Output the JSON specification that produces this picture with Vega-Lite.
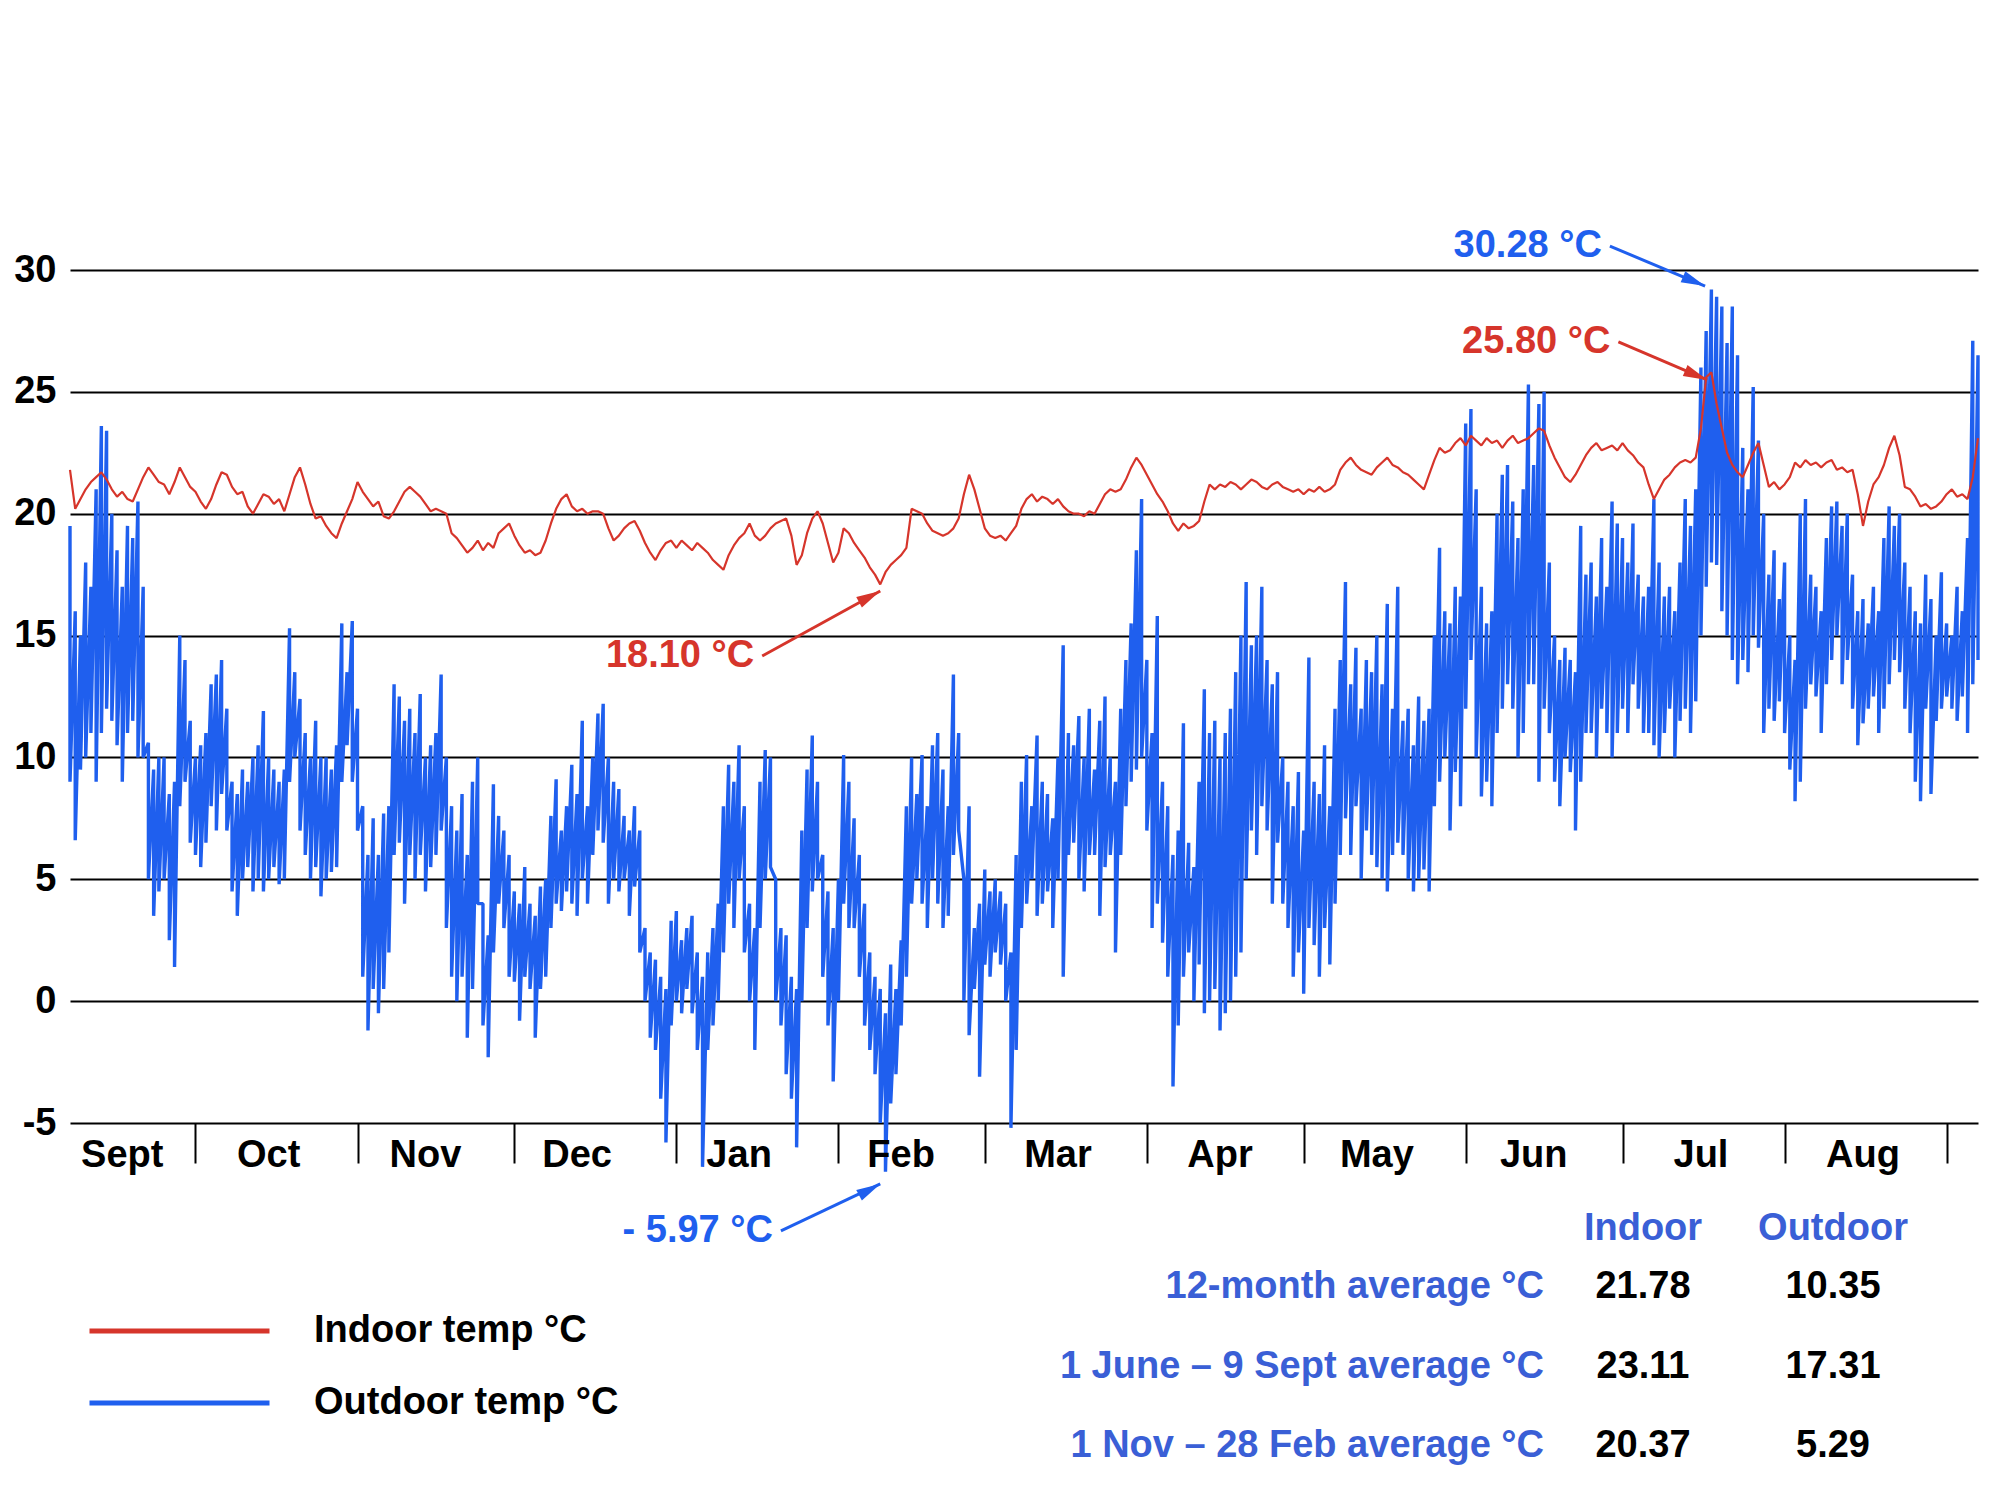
{
  "$schema": "https://vega.github.io/schema/vega-lite/v6.json",
  "description": "Indoor and outdoor temperature over twelve months, with period averages.",
  "width": 1908,
  "height": 853,
  "autosize": {"type": "none"},
  "padding": {"left": 70, "top": 270, "right": 22, "bottom": 377},
  "background": "white",
  "datasets": {
    "temps": [
      {"d":"2012-09-07","l":9,"h":19.5,"i":21.8},{"d":"2012-09-08","l":6.6,"h":16,"i":20.2},{"d":"2012-09-09","l":9.5,"h":15,"i":20.6},{"d":"2012-09-10","l":10,"h":18,"i":21.0},
      {"d":"2012-09-11","l":11,"h":17,"i":21.3},{"d":"2012-09-12","l":9,"h":21,"i":21.5},{"d":"2012-09-13","l":11,"h":23.6,"i":21.7},{"d":"2012-09-14","l":12,"h":23.4,"i":21.4},
      {"d":"2012-09-15","l":11.5,"h":20,"i":21.0},{"d":"2012-09-16","l":10.5,"h":18.5,"i":20.7},{"d":"2012-09-17","l":9,"h":17,"i":20.9},{"d":"2012-09-18","l":11,"h":19.5,"i":20.6},
      {"d":"2012-09-19","l":11.5,"h":19,"i":20.5},{"d":"2012-09-20","l":10,"h":20.5,"i":21.0},{"d":"2012-09-21","l":10,"h":17,"i":21.5},{"d":"2012-09-22","l":5,"h":10.6,"i":21.9},
      {"d":"2012-09-23","l":3.5,"h":9.5,"i":21.6},{"d":"2012-09-24","l":4.5,"h":10,"i":21.3},{"d":"2012-09-25","l":5,"h":10,"i":21.2},{"d":"2012-09-26","l":2.5,"h":8.5,"i":20.8},
      {"d":"2012-09-27","l":1.4,"h":9,"i":21.3},{"d":"2012-09-28","l":8,"h":15,"i":21.9},{"d":"2012-09-29","l":9,"h":14,"i":21.5},{"d":"2012-09-30","l":6.5,"h":11.5,"i":21.1},
      {"d":"2012-10-01","l":6,"h":10,"i":20.9},{"d":"2012-10-02","l":5.5,"h":10.5,"i":20.5},{"d":"2012-10-03","l":6.5,"h":11,"i":20.2},{"d":"2012-10-04","l":8,"h":13,"i":20.6},
      {"d":"2012-10-05","l":7,"h":13.4,"i":21.2},{"d":"2012-10-06","l":8.5,"h":14,"i":21.7},{"d":"2012-10-07","l":7,"h":12,"i":21.6},{"d":"2012-10-08","l":4.5,"h":9,"i":21.1},
      {"d":"2012-10-09","l":3.5,"h":8.5,"i":20.8},{"d":"2012-10-10","l":5,"h":9.5,"i":20.9},{"d":"2012-10-11","l":5.5,"h":9,"i":20.3},{"d":"2012-10-12","l":4.5,"h":10,"i":20.0},
      {"d":"2012-10-13","l":5,"h":10.5,"i":20.4},{"d":"2012-10-14","l":4.5,"h":11.9,"i":20.8},{"d":"2012-10-15","l":5,"h":10,"i":20.7},{"d":"2012-10-16","l":5.5,"h":9.5,"i":20.4},
      {"d":"2012-10-17","l":4.8,"h":9,"i":20.6},{"d":"2012-10-18","l":5,"h":9.5,"i":20.1},{"d":"2012-10-19","l":9,"h":15.3,"i":20.8},{"d":"2012-10-20","l":10,"h":13.5,"i":21.5},
      {"d":"2012-10-21","l":7,"h":12.4,"i":21.9},{"d":"2012-10-22","l":6,"h":11,"i":21.2},{"d":"2012-10-23","l":5,"h":10,"i":20.4},{"d":"2012-10-24","l":5.5,"h":11.5,"i":19.8},
      {"d":"2012-10-25","l":4.3,"h":10,"i":19.9},{"d":"2012-10-26","l":5,"h":10,"i":19.5},{"d":"2012-10-27","l":5.3,"h":9.5,"i":19.2},{"d":"2012-10-28","l":5.5,"h":10.5,"i":19.0},
      {"d":"2012-10-29","l":9,"h":15.5,"i":19.6},{"d":"2012-10-30","l":10.5,"h":13.5,"i":20.1},{"d":"2012-10-31","l":9,"h":15.6,"i":20.6},
      {"d":"2012-11-01","l":7,"h":12,"i":21.3},{"d":"2012-11-02","l":1,"h":8,"i":20.9},{"d":"2012-11-03","l":-1.2,"h":6,"i":20.6},{"d":"2012-11-04","l":0.5,"h":7.5,"i":20.3},
      {"d":"2012-11-05","l":-0.5,"h":6,"i":20.5},{"d":"2012-11-06","l":0.5,"h":7.7,"i":19.9},{"d":"2012-11-07","l":2,"h":8,"i":19.8},{"d":"2012-11-08","l":6,"h":13,"i":20.1},
      {"d":"2012-11-09","l":6.5,"h":12.5,"i":20.5},{"d":"2012-11-10","l":4,"h":11.5,"i":20.9},{"d":"2012-11-11","l":6,"h":12,"i":21.1},{"d":"2012-11-12","l":5,"h":11,"i":20.9},
      {"d":"2012-11-13","l":6,"h":12.6,"i":20.7},{"d":"2012-11-14","l":4.5,"h":10,"i":20.4},{"d":"2012-11-15","l":5.5,"h":10.5,"i":20.1},{"d":"2012-11-16","l":6,"h":11,"i":20.2},
      {"d":"2012-11-17","l":7,"h":13.4,"i":20.1},{"d":"2012-11-18","l":3,"h":10,"i":20.0},{"d":"2012-11-19","l":1,"h":8,"i":19.2},{"d":"2012-11-20","l":0,"h":7,"i":19.0},
      {"d":"2012-11-21","l":1,"h":8.5,"i":18.7},{"d":"2012-11-22","l":-1.5,"h":6,"i":18.4},{"d":"2012-11-23","l":0.5,"h":9,"i":18.6},{"d":"2012-11-24","l":4,"h":10,"i":18.9},
      {"d":"2012-11-25","l":-1,"h":4,"i":18.5},{"d":"2012-11-26","l":-2.3,"h":2.7,"i":18.8},{"d":"2012-11-27","l":2,"h":8.9,"i":18.6},{"d":"2012-11-28","l":4,"h":7.6,"i":19.2},
      {"d":"2012-11-29","l":3,"h":7,"i":19.4},{"d":"2012-11-30","l":1,"h":6,"i":19.6},
      {"d":"2012-12-01","l":0.8,"h":4.5,"i":19.1},{"d":"2012-12-02","l":-0.8,"h":4,"i":18.7},{"d":"2012-12-03","l":1,"h":5.5,"i":18.4},{"d":"2012-12-04","l":0.5,"h":4,"i":18.5},
      {"d":"2012-12-05","l":-1.5,"h":3.5,"i":18.3},{"d":"2012-12-06","l":0.5,"h":4.7,"i":18.4},{"d":"2012-12-07","l":1,"h":5,"i":18.9},{"d":"2012-12-08","l":3,"h":7.6,"i":19.6},
      {"d":"2012-12-09","l":4,"h":9.1,"i":20.2},{"d":"2012-12-10","l":3.7,"h":7,"i":20.6},{"d":"2012-12-11","l":4.5,"h":8,"i":20.8},{"d":"2012-12-12","l":4,"h":9.7,"i":20.3},
      {"d":"2012-12-13","l":3.5,"h":8.5,"i":20.1},{"d":"2012-12-14","l":5,"h":11.5,"i":20.2},{"d":"2012-12-15","l":4,"h":8,"i":20.0},{"d":"2012-12-16","l":6,"h":10,"i":20.1},
      {"d":"2012-12-17","l":7,"h":11.8,"i":20.1},{"d":"2012-12-18","l":6.5,"h":12.2,"i":20.0},{"d":"2012-12-19","l":4,"h":10,"i":19.4},{"d":"2012-12-20","l":5,"h":9,"i":18.9},
      {"d":"2012-12-21","l":4.5,"h":8.7,"i":19.1},{"d":"2012-12-22","l":5,"h":7.6,"i":19.4},{"d":"2012-12-23","l":3.5,"h":7,"i":19.6},{"d":"2012-12-24","l":4.7,"h":8,"i":19.7},
      {"d":"2012-12-25","l":2,"h":7,"i":19.3},{"d":"2012-12-26","l":0,"h":3,"i":18.8},{"d":"2012-12-27","l":-1.5,"h":2,"i":18.4},{"d":"2012-12-28","l":-2,"h":1.7,"i":18.1},
      {"d":"2012-12-29","l":-4,"h":1,"i":18.5},{"d":"2012-12-30","l":-5.8,"h":0.5,"i":18.8},{"d":"2012-12-31","l":-1,"h":3.3,"i":18.9},
      {"d":"2013-01-01","l":0,"h":3.7,"i":18.6},{"d":"2013-01-02","l":-0.5,"h":2.5,"i":18.9},{"d":"2013-01-03","l":0.5,"h":3,"i":18.7},{"d":"2013-01-04","l":-0.5,"h":3.5,"i":18.5},
      {"d":"2013-01-05","l":-2,"h":2,"i":18.8},{"d":"2013-01-06","l":-6.8,"h":1,"i":18.6},{"d":"2013-01-07","l":-2,"h":2,"i":18.4},{"d":"2013-01-08","l":-1,"h":3,"i":18.1},
      {"d":"2013-01-09","l":0,"h":4,"i":17.9},{"d":"2013-01-10","l":2,"h":8,"i":17.7},{"d":"2013-01-11","l":4,"h":9.7,"i":18.3},{"d":"2013-01-12","l":3,"h":9,"i":18.7},
      {"d":"2013-01-13","l":5,"h":10.5,"i":19.0},{"d":"2013-01-14","l":2,"h":8,"i":19.2},{"d":"2013-01-15","l":0,"h":4,"i":19.6},{"d":"2013-01-16","l":-2,"h":3,"i":19.1},
      {"d":"2013-01-17","l":3,"h":9,"i":18.9},{"d":"2013-01-18","l":5,"h":10.3,"i":19.1},{"d":"2013-01-19","l":5.5,"h":10,"i":19.4},{"d":"2013-01-20","l":0,"h":5,"i":19.6},
      {"d":"2013-01-21","l":-1,"h":3,"i":19.7},{"d":"2013-01-22","l":-3,"h":2.7,"i":19.8},{"d":"2013-01-23","l":-4,"h":1,"i":19.1},{"d":"2013-01-24","l":-6,"h":0.5,"i":17.9},
      {"d":"2013-01-25","l":0,"h":7,"i":18.3},{"d":"2013-01-26","l":3,"h":9.5,"i":19.2},{"d":"2013-01-27","l":4.5,"h":10.9,"i":19.8},{"d":"2013-01-28","l":5,"h":9,"i":20.1},
      {"d":"2013-01-29","l":1,"h":6,"i":19.6},{"d":"2013-01-30","l":-1,"h":4.5,"i":18.8},{"d":"2013-01-31","l":-3.3,"h":3,"i":18.0},
      {"d":"2013-02-01","l":0,"h":5,"i":18.4},{"d":"2013-02-02","l":4,"h":10.1,"i":19.4},{"d":"2013-02-03","l":3,"h":9,"i":19.2},{"d":"2013-02-04","l":3,"h":7.5,"i":18.8},
      {"d":"2013-02-05","l":1,"h":6,"i":18.5},{"d":"2013-02-06","l":-1,"h":4,"i":18.2},{"d":"2013-02-07","l":-2,"h":2,"i":17.8},{"d":"2013-02-08","l":-3,"h":1,"i":17.5},
      {"d":"2013-02-09","l":-5,"h":0.5,"i":17.1},{"d":"2013-02-10","l":-7,"h":-0.5,"i":17.6},{"d":"2013-02-11","l":-4.2,"h":1.5,"i":17.9},{"d":"2013-02-12","l":-3,"h":0.5,"i":18.1},
      {"d":"2013-02-13","l":-1,"h":2.5,"i":18.3},{"d":"2013-02-14","l":1,"h":8,"i":18.6},{"d":"2013-02-15","l":4,"h":10,"i":20.2},{"d":"2013-02-16","l":5,"h":8.5,"i":20.1},
      {"d":"2013-02-17","l":4,"h":10.1,"i":20.0},{"d":"2013-02-18","l":3,"h":8,"i":19.6},{"d":"2013-02-19","l":5,"h":10.5,"i":19.3},{"d":"2013-02-20","l":4,"h":11,"i":19.2},
      {"d":"2013-02-21","l":3,"h":9.5,"i":19.1},{"d":"2013-02-22","l":3.5,"h":8,"i":19.2},{"d":"2013-02-23","l":6,"h":13.4,"i":19.4},{"d":"2013-02-24","l":7,"h":11,"i":19.8},
      {"d":"2013-02-25","l":0,"h":5,"i":20.8},{"d":"2013-02-26","l":-1.4,"h":8,"i":21.6},{"d":"2013-02-27","l":0.5,"h":3,"i":21.0},{"d":"2013-02-28","l":-3.1,"h":4,"i":20.2},
      {"d":"2013-03-01","l":1.5,"h":5.4,"i":19.4},{"d":"2013-03-02","l":1,"h":4.5,"i":19.1},{"d":"2013-03-03","l":2,"h":5,"i":19.0},{"d":"2013-03-04","l":1.5,"h":4.5,"i":19.1},
      {"d":"2013-03-05","l":0,"h":4,"i":18.9},{"d":"2013-03-06","l":-5.2,"h":2,"i":19.2},{"d":"2013-03-07","l":-2,"h":6,"i":19.5},{"d":"2013-03-08","l":3,"h":9,"i":20.2},
      {"d":"2013-03-09","l":4,"h":10.1,"i":20.6},{"d":"2013-03-10","l":5,"h":8,"i":20.8},{"d":"2013-03-11","l":3.5,"h":10.9,"i":20.5},{"d":"2013-03-12","l":4,"h":9,"i":20.7},
      {"d":"2013-03-13","l":4.5,"h":8.5,"i":20.6},{"d":"2013-03-14","l":3,"h":7.5,"i":20.4},{"d":"2013-03-15","l":5,"h":10,"i":20.6},{"d":"2013-03-16","l":1,"h":14.6,"i":20.3},
      {"d":"2013-03-17","l":6,"h":11,"i":20.1},{"d":"2013-03-18","l":6.5,"h":10.5,"i":20.0},{"d":"2013-03-19","l":5,"h":11.7,"i":20.0},{"d":"2013-03-20","l":4.5,"h":10,"i":19.9},
      {"d":"2013-03-21","l":6,"h":12,"i":20.1},{"d":"2013-03-22","l":6,"h":9.5,"i":20.0},{"d":"2013-03-23","l":3.5,"h":11.5,"i":20.4},{"d":"2013-03-24","l":5.5,"h":12.5,"i":20.8},
      {"d":"2013-03-25","l":6,"h":10,"i":21.0},{"d":"2013-03-26","l":2,"h":9,"i":20.9},{"d":"2013-03-27","l":6,"h":12,"i":21.0},{"d":"2013-03-28","l":8,"h":14,"i":21.4},
      {"d":"2013-03-29","l":9,"h":15.5,"i":21.9},{"d":"2013-03-30","l":9.5,"h":18.5,"i":22.3},{"d":"2013-03-31","l":10,"h":20.6,"i":22.0},
      {"d":"2013-04-01","l":7,"h":14,"i":21.6},{"d":"2013-04-02","l":3,"h":11,"i":21.2},{"d":"2013-04-03","l":4,"h":15.8,"i":20.8},{"d":"2013-04-04","l":2.4,"h":9,"i":20.5},
      {"d":"2013-04-05","l":1,"h":8,"i":20.1},{"d":"2013-04-06","l":-3.5,"h":6,"i":19.6},{"d":"2013-04-07","l":-1,"h":7,"i":19.3},{"d":"2013-04-08","l":1,"h":11.4,"i":19.6},
      {"d":"2013-04-09","l":2,"h":6.5,"i":19.4},{"d":"2013-04-10","l":0,"h":5.5,"i":19.5},{"d":"2013-04-11","l":1.5,"h":9,"i":19.7},{"d":"2013-04-12","l":-0.5,"h":12.8,"i":20.5},
      {"d":"2013-04-13","l":0,"h":11,"i":21.2},{"d":"2013-04-14","l":0.5,"h":11.5,"i":21.0},{"d":"2013-04-15","l":-1.2,"h":10,"i":21.2},{"d":"2013-04-16","l":-0.5,"h":11,"i":21.1},
      {"d":"2013-04-17","l":0,"h":12,"i":21.3},{"d":"2013-04-18","l":1,"h":13.5,"i":21.2},{"d":"2013-04-19","l":2,"h":15,"i":21.0},{"d":"2013-04-20","l":5,"h":17.2,"i":21.2},
      {"d":"2013-04-21","l":7,"h":14.6,"i":21.4},{"d":"2013-04-22","l":6,"h":15,"i":21.3},{"d":"2013-04-23","l":8,"h":17,"i":21.1},{"d":"2013-04-24","l":7,"h":14,"i":21.0},
      {"d":"2013-04-25","l":4,"h":13,"i":21.2},{"d":"2013-04-26","l":6.5,"h":13.5,"i":21.3},{"d":"2013-04-27","l":4,"h":10,"i":21.1},{"d":"2013-04-28","l":3,"h":9,"i":21.0},
      {"d":"2013-04-29","l":1,"h":8,"i":20.9},{"d":"2013-04-30","l":2,"h":9.4,"i":21.0},
      {"d":"2013-05-01","l":0.3,"h":7,"i":20.8},{"d":"2013-05-02","l":3,"h":14.1,"i":21.0},{"d":"2013-05-03","l":2.3,"h":9,"i":20.9},{"d":"2013-05-04","l":1,"h":8.5,"i":21.1},
      {"d":"2013-05-05","l":3,"h":10.5,"i":20.9},{"d":"2013-05-06","l":1.5,"h":8,"i":21.0},{"d":"2013-05-07","l":4,"h":12,"i":21.2},{"d":"2013-05-08","l":6,"h":14,"i":21.8},
      {"d":"2013-05-09","l":7.5,"h":17.2,"i":22.1},{"d":"2013-05-10","l":6,"h":13,"i":22.3},{"d":"2013-05-11","l":8,"h":14.5,"i":22.0},{"d":"2013-05-12","l":5,"h":12,"i":21.8},
      {"d":"2013-05-13","l":7,"h":14,"i":21.7},{"d":"2013-05-14","l":6,"h":13.5,"i":21.6},{"d":"2013-05-15","l":5.5,"h":15,"i":21.9},{"d":"2013-05-16","l":5,"h":13,"i":22.1},
      {"d":"2013-05-17","l":4.5,"h":16.3,"i":22.3},{"d":"2013-05-18","l":6,"h":12,"i":22.0},{"d":"2013-05-19","l":6.5,"h":17,"i":21.9},{"d":"2013-05-20","l":6,"h":11.5,"i":21.7},
      {"d":"2013-05-21","l":5,"h":12,"i":21.6},{"d":"2013-05-22","l":4.5,"h":10.5,"i":21.4},{"d":"2013-05-23","l":5,"h":12.5,"i":21.2},{"d":"2013-05-24","l":5.4,"h":11.5,"i":21.0},
      {"d":"2013-05-25","l":4.5,"h":12,"i":21.6},{"d":"2013-05-26","l":8,"h":15,"i":22.2},{"d":"2013-05-27","l":9,"h":18.6,"i":22.7},{"d":"2013-05-28","l":10,"h":16,"i":22.5},
      {"d":"2013-05-29","l":7,"h":15.5,"i":22.6},{"d":"2013-05-30","l":9.4,"h":17,"i":22.9},{"d":"2013-05-31","l":8,"h":16.6,"i":23.1},
      {"d":"2013-06-01","l":12,"h":23.7,"i":22.8},{"d":"2013-06-02","l":14,"h":24.3,"i":23.2},{"d":"2013-06-03","l":10,"h":21,"i":23.0},{"d":"2013-06-04","l":8.4,"h":17,"i":22.8},
      {"d":"2013-06-05","l":9,"h":15.5,"i":23.1},{"d":"2013-06-06","l":8,"h":16,"i":22.9},{"d":"2013-06-07","l":11,"h":20,"i":23.0},{"d":"2013-06-08","l":12,"h":21.6,"i":22.7},
      {"d":"2013-06-09","l":13,"h":22,"i":23.0},{"d":"2013-06-10","l":12,"h":20.5,"i":23.2},{"d":"2013-06-11","l":10,"h":19,"i":22.9},{"d":"2013-06-12","l":11,"h":21,"i":23.0},
      {"d":"2013-06-13","l":13,"h":25.3,"i":23.1},{"d":"2013-06-14","l":13,"h":22,"i":23.3},{"d":"2013-06-15","l":9,"h":24.5,"i":23.5},{"d":"2013-06-16","l":12,"h":25,"i":23.4},
      {"d":"2013-06-17","l":11,"h":18,"i":22.8},{"d":"2013-06-18","l":9,"h":15,"i":22.3},{"d":"2013-06-19","l":8,"h":14,"i":21.9},{"d":"2013-06-20","l":10,"h":14.5,"i":21.5},
      {"d":"2013-06-21","l":9.4,"h":14,"i":21.3},{"d":"2013-06-22","l":7,"h":13.5,"i":21.6},{"d":"2013-06-23","l":9,"h":19.5,"i":22.0},{"d":"2013-06-24","l":11,"h":17.5,"i":22.4},
      {"d":"2013-06-25","l":11,"h":18,"i":22.7},{"d":"2013-06-26","l":10,"h":16.6,"i":22.9},{"d":"2013-06-27","l":12,"h":19,"i":22.6},{"d":"2013-06-28","l":11,"h":17,"i":22.7},
      {"d":"2013-06-29","l":10,"h":20.5,"i":22.8},{"d":"2013-06-30","l":11,"h":19.6,"i":22.6},
      {"d":"2013-07-01","l":12,"h":19,"i":22.9},{"d":"2013-07-02","l":11,"h":18,"i":22.6},{"d":"2013-07-03","l":13,"h":19.6,"i":22.4},{"d":"2013-07-04","l":12,"h":17.5,"i":22.1},
      {"d":"2013-07-05","l":11,"h":16.6,"i":21.9},{"d":"2013-07-06","l":11,"h":17,"i":21.2},{"d":"2013-07-07","l":10.5,"h":20.6,"i":20.6},{"d":"2013-07-08","l":10,"h":18,"i":21.0},
      {"d":"2013-07-09","l":11,"h":16.6,"i":21.4},{"d":"2013-07-10","l":12,"h":17,"i":21.6},{"d":"2013-07-11","l":10,"h":16,"i":21.9},{"d":"2013-07-12","l":11.5,"h":18,"i":22.1},
      {"d":"2013-07-13","l":12,"h":20.6,"i":22.2},{"d":"2013-07-14","l":11,"h":19.5,"i":22.1},{"d":"2013-07-15","l":12.3,"h":21,"i":22.3},{"d":"2013-07-16","l":15,"h":26,"i":23.5},
      {"d":"2013-07-17","l":17,"h":27.5,"i":25.6},{"d":"2013-07-18","l":18,"h":29.2,"i":25.8},{"d":"2013-07-19","l":17.9,"h":28.9,"i":24.5},{"d":"2013-07-20","l":16,"h":28.5,"i":23.5},
      {"d":"2013-07-21","l":15,"h":27,"i":22.5},{"d":"2013-07-22","l":14,"h":28.5,"i":22.0},{"d":"2013-07-23","l":13,"h":26.5,"i":21.7},{"d":"2013-07-24","l":14,"h":22.7,"i":21.5},
      {"d":"2013-07-25","l":13.5,"h":21,"i":22.0},{"d":"2013-07-26","l":15,"h":25.2,"i":22.5},{"d":"2013-07-27","l":14.5,"h":23,"i":22.9},{"d":"2013-07-28","l":11,"h":20,"i":22.0},
      {"d":"2013-07-29","l":12,"h":17.5,"i":21.1},{"d":"2013-07-30","l":11.5,"h":18.5,"i":21.3},{"d":"2013-07-31","l":12.3,"h":16.5,"i":21.0},
      {"d":"2013-08-01","l":11,"h":18,"i":21.2},{"d":"2013-08-02","l":9.5,"h":15,"i":21.5},{"d":"2013-08-03","l":8.2,"h":14,"i":22.1},{"d":"2013-08-04","l":9,"h":20,"i":21.9},
      {"d":"2013-08-05","l":12,"h":20.6,"i":22.2},{"d":"2013-08-06","l":13,"h":17.5,"i":22.0},{"d":"2013-08-07","l":12.5,"h":17,"i":22.1},{"d":"2013-08-08","l":11,"h":16,"i":21.9},
      {"d":"2013-08-09","l":13,"h":19,"i":22.1},{"d":"2013-08-10","l":14,"h":20.3,"i":22.2},{"d":"2013-08-11","l":15,"h":20.5,"i":21.8},{"d":"2013-08-12","l":13,"h":19.5,"i":21.9},
      {"d":"2013-08-13","l":14,"h":20,"i":21.7},{"d":"2013-08-14","l":12,"h":17.5,"i":21.8},{"d":"2013-08-15","l":10.5,"h":16,"i":20.8},{"d":"2013-08-16","l":11.4,"h":16.5,"i":19.5},
      {"d":"2013-08-17","l":12,"h":15.5,"i":20.5},{"d":"2013-08-18","l":12.5,"h":17,"i":21.2},{"d":"2013-08-19","l":11,"h":16,"i":21.5},{"d":"2013-08-20","l":12,"h":19,"i":22.0},
      {"d":"2013-08-21","l":13,"h":20.3,"i":22.7},{"d":"2013-08-22","l":14,"h":19.5,"i":23.2},{"d":"2013-08-23","l":13.5,"h":20,"i":22.4},{"d":"2013-08-24","l":12,"h":18,"i":21.1},
      {"d":"2013-08-25","l":11,"h":17,"i":21.0},{"d":"2013-08-26","l":9,"h":16,"i":20.7},{"d":"2013-08-27","l":8.2,"h":15.5,"i":20.3},{"d":"2013-08-28","l":12,"h":17.5,"i":20.4},
      {"d":"2013-08-29","l":8.5,"h":16.5,"i":20.2},{"d":"2013-08-30","l":11.5,"h":15,"i":20.3},{"d":"2013-08-31","l":12,"h":17.6,"i":20.5},
      {"d":"2013-09-01","l":12.5,"h":15.5,"i":20.8},{"d":"2013-09-02","l":12,"h":15,"i":21.0},{"d":"2013-09-03","l":11.5,"h":17,"i":20.7},{"d":"2013-09-04","l":12.5,"h":16,"i":20.8},
      {"d":"2013-09-05","l":11,"h":19,"i":20.6},{"d":"2013-09-06","l":13,"h":27.1,"i":21.5},{"d":"2013-09-07","l":14,"h":26.5,"i":23.1}
    ],
    "months": [
      {"m":"Sept","d":"2012-09-17"},{"m":"Oct","d":"2012-10-15"},{"m":"Nov","d":"2012-11-14"},{"m":"Dec","d":"2012-12-13"},
      {"m":"Jan","d":"2013-01-13"},{"m":"Feb","d":"2013-02-13"},{"m":"Mar","d":"2013-03-15"},{"m":"Apr","d":"2013-04-15"},
      {"m":"May","d":"2013-05-15"},{"m":"Jun","d":"2013-06-14"},{"m":"Jul","d":"2013-07-16"},{"m":"Aug","d":"2013-08-16"}
    ],
    "ann": [
      {"t":"30.28 °C","s":"Outdoor temp °C","d":"2013-07-16T19:00:00Z","v":29.34,"d0":"2013-06-28T14:00:00Z","v0":30.98},
      {"t":"25.80 °C","s":"Indoor temp °C","d":"2013-07-17T05:00:00Z","v":25.49,"d0":"2013-06-30T05:00:00Z","v0":27.05},
      {"t":"18.10 °C","s":"Indoor temp °C","d":"2013-02-09T00:00:00Z","v":16.83,"d0":"2013-01-17T10:00:00Z","v0":14.16},
      {"t":"- 5.97 °C","s":"Outdoor temp °C","d":"2013-02-09T00:00:00Z","v":-7.5,"d0":"2013-01-21T00:00:00Z","v0":-9.43}
    ],
    "tbl": [
      {"r":"12-month average °C","Indoor":21.78,"Outdoor":10.35},
      {"r":"1 June – 9 Sept average °C","Indoor":23.11,"Outdoor":17.31},
      {"r":"1 Nov – 28 Feb average °C","Indoor":20.37,"Outdoor":5.29}
    ]
  },
  "layer": [
    {
      "layer": [
        {
          "data": {"name": "temps"},
          "transform": [{"fold": ["h", "l"], "as": ["k", "o"]}],
          "mark": {"type": "line", "strokeWidth": 3.4, "strokeJoin": "bevel"},
          "encoding": {
            "x": {
              "field": "d", "type": "temporal", "title": null,
              "scale": {"type": "utc", "domain": [{"year": 2012, "month": 9, "date": 7, "utc": true}, {"year": 2013, "month": 9, "date": 7, "utc": true}]},
              "axis": {
                "values": [
                  {"year": 2012, "month": 10, "date": 1, "utc": true}, {"year": 2012, "month": 11, "date": 1, "utc": true},
                  {"year": 2012, "month": 12, "date": 1, "utc": true}, {"year": 2013, "month": 1, "date": 1, "utc": true},
                  {"year": 2013, "month": 2, "date": 1, "utc": true}, {"year": 2013, "month": 3, "date": 1, "utc": true},
                  {"year": 2013, "month": 4, "date": 1, "utc": true}, {"year": 2013, "month": 5, "date": 1, "utc": true},
                  {"year": 2013, "month": 6, "date": 1, "utc": true}, {"year": 2013, "month": 7, "date": 1, "utc": true},
                  {"year": 2013, "month": 8, "date": 1, "utc": true}, {"year": 2013, "month": 9, "date": 1, "utc": true}
                ],
                "labels": false, "domain": false, "grid": false,
                "tickSize": 40, "tickWidth": 2, "tickColor": "#000"
              }
            },
            "y": {
              "field": "o", "type": "quantitative", "title": null,
              "scale": {"domain": [-5, 30], "nice": false, "zero": false},
              "axis": {
                "values": [-5, 0, 5, 10, 15, 20, 25, 30],
                "labelExpr": "'' + datum.value",
                "grid": true, "gridColor": "#000", "gridWidth": 2, "gridOpacity": 1,
                "domain": false, "ticks": false, "labelPadding": 14,
                "labelFontSize": 38, "labelFontWeight": "bold", "labelColor": "#000"
              }
            },
            "order": [{"field": "d", "type": "temporal"}, {"field": "k"}],
            "color": {
              "datum": "Outdoor temp °C",
              "title": null,
              "scale": {"domain": ["Indoor temp °C", "Outdoor temp °C"], "range": ["#d6352b", "#1f5fee"]},
              "legend": {
                "orient": "none", "legendX": 17, "legendY": 1041, "title": null,
                "symbolType": "stroke", "symbolSize": 32400, "symbolStrokeWidth": 5,
                "labelFontSize": 38, "labelFontWeight": "bold", "labelColor": "#000",
                "labelOffset": 42, "clipHeight": 40, "rowPadding": 32, "padding": 0, "labelLimit": 0,
                "encode": {"symbols": {"update": {"stroke": {"signal": "datum.value === 'Indoor temp °C' ? '#7a2d48' : '#3b55a6'"}}}}
              }
            }
          }
        },
        {
          "data": {"name": "temps"},
          "mark": {"type": "line", "strokeWidth": 2.2, "strokeJoin": "bevel"},
          "encoding": {
            "x": {"field": "d", "type": "temporal", "scale": {"type": "utc"}},
            "y": {"field": "i", "type": "quantitative"},
            "color": {"datum": "Indoor temp °C", "title": null}
          }
        },
        {
          "data": {"name": "months"},
          "mark": {"type": "text", "dy": 33, "baseline": "middle", "color": "#000"},
          "encoding": {
            "x": {"field": "d", "type": "temporal", "scale": {"type": "utc"}},
            "y": {"datum": -5, "type": "quantitative"},
            "text": {"field": "m"}
          }
        },
        {
          "data": {"name": "ann"},
          "mark": {"type": "rule", "strokeWidth": 3},
          "encoding": {
            "x": {"field": "d0", "type": "temporal", "scale": {"type": "utc"}},
            "x2": {"field": "d"},
            "y": {"field": "v0", "type": "quantitative"},
            "y2": {"field": "v"},
            "color": {"field": "s", "type": "nominal", "title": null}
          }
        },
        {
          "data": {"name": "ann"},
          "transform": [{"filter": "datum.v0 > datum.v"}],
          "mark": {"type": "point", "shape": "M0,0L0.5,2L-0.5,2Z", "filled": true, "opacity": 1, "size": 576, "angle": 113},
          "encoding": {
            "x": {"field": "d", "type": "temporal", "scale": {"type": "utc"}},
            "y": {"field": "v", "type": "quantitative"},
            "color": {"field": "s", "type": "nominal", "title": null}
          }
        },
        {
          "data": {"name": "ann"},
          "transform": [{"filter": "datum.v0 < datum.v"}],
          "mark": {"type": "point", "shape": "M0,0L0.5,2L-0.5,2Z", "filled": true, "opacity": 1, "size": 576, "angle": 62},
          "encoding": {
            "x": {"field": "d", "type": "temporal", "scale": {"type": "utc"}},
            "y": {"field": "v", "type": "quantitative"},
            "color": {"field": "s", "type": "nominal", "title": null}
          }
        },
        {
          "data": {"name": "ann"},
          "mark": {"type": "text", "align": "right", "baseline": "middle", "dx": -8},
          "encoding": {
            "x": {"field": "d0", "type": "temporal", "scale": {"type": "utc"}},
            "y": {"field": "v0", "type": "quantitative"},
            "text": {"field": "t"},
            "color": {"field": "s", "type": "nominal", "title": null}
          }
        }
      ]
    },
    {
      "data": {"name": "tbl"},
      "layer": [
        {
          "mark": {"type": "text", "align": "right", "baseline": "middle", "dx": -99, "color": "#3a5fd6"},
          "encoding": {
            "x": {"datum": "Indoor", "type": "nominal", "scale": {"type": "point", "domain": ["Indoor", "Outdoor"], "range": [1573, 1763], "padding": 0}, "axis": null},
            "y": {"field": "r", "type": "nominal", "sort": null, "scale": {"type": "point", "domain": ["12-month average °C", "1 June – 9 Sept average °C", "1 Nov – 28 Feb average °C"], "range": [1017, 1176], "padding": 0}, "axis": null},
            "text": {"field": "r"}
          }
        },
        {
          "transform": [{"fold": ["Indoor", "Outdoor"], "as": ["k", "v"]}],
          "mark": {"type": "text", "align": "center", "baseline": "middle", "color": "#000"},
          "encoding": {
            "x": {"field": "k", "type": "nominal", "axis": null},
            "y": {"field": "r", "type": "nominal", "axis": null},
            "text": {"field": "v", "type": "quantitative", "format": ".2f"}
          }
        },
        {
          "transform": [
            {"fold": ["Indoor", "Outdoor"], "as": ["k", "v"]},
            {"filter": "datum.r === '12-month average °C'"}
          ],
          "mark": {"type": "text", "align": "center", "baseline": "middle", "dy": -58, "color": "#3a5fd6"},
          "encoding": {
            "x": {"field": "k", "type": "nominal", "axis": null},
            "y": {"field": "r", "type": "nominal", "axis": null},
            "text": {"field": "k"}
          }
        }
      ]
    }
  ],
  "resolve": {"scale": {"x": "independent", "y": "independent"}},
  "config": {
    "view": {"stroke": null},
    "font": "Liberation Sans, Arial, sans-serif",
    "text": {"fontSize": 38, "fontWeight": "bold"}
  }
}
